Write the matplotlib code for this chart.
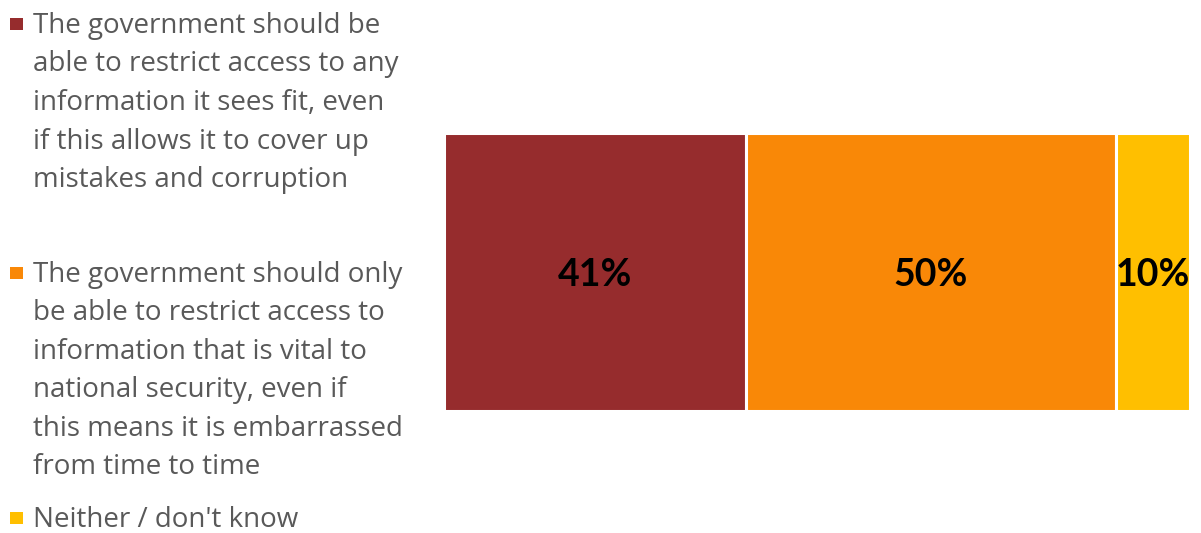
import matplotlib
matplotlib.use('Agg')
import matplotlib.pyplot as plt
from matplotlib.patches import Rectangle

# data
categories = [
    ["The government should be", "able to restrict access to any",
     "information it sees fit, even", "if this allows it to cover up",
     "mistakes and corruption"],
    ["The government should only", "be able to restrict access to",
     "information that is vital to", "national security, even if",
     "this means it is embarrassed", "from time to time"],
    ["Neither / don't know"],
]
values = [41, 50, 10]
labels = ["41%", "50%", "10%"]
colors = ["#962C2D", "#F98807", "#FFBF00"]

W, H = 1201, 533
fig = plt.figure(figsize=(W / 100, H / 100), dpi=100)

# stacked bar (axes padded by the white edge half-width)
ax = fig.add_axes([443.5 / W, 1 - 410.5 / H, 746 / W, 278 / H])
left = 0
for v, lab, c in zip(values, labels, colors):
    ax.barh(0, v, left=left, height=1.0, color=c, edgecolor='white', linewidth=2.2)
    ax.text(left + v / 2, -0.012, lab, ha='center', va='center', fontsize=27,
            fontweight='bold', family='Lato', color='black')
    left += v
ax.set_xlim(0, sum(values))
ax.set_ylim(-0.5, 0.5)
ax.axis('off')

# legend drawn by hand so the marker sits on the first line
first_baselines = [33, 282, 527]
line_step = 38.5
for lines, c, yb in zip(categories, colors, first_baselines):
    fig.patches.append(Rectangle((10 / W, 1 - (yb - 3) / H), 12.5 / W, 12.5 / H,
                                 transform=fig.transFigure, facecolor=c,
                                 edgecolor='none'))
    for i, line in enumerate(lines):
        fig.text(33 / W, 1 - (yb + i * line_step) / H, line, ha='left',
                 va='baseline', fontsize=20, family='Open Sans',
                 color='#595959')

plt.savefig('out.png', dpi=100)
plt.close()
